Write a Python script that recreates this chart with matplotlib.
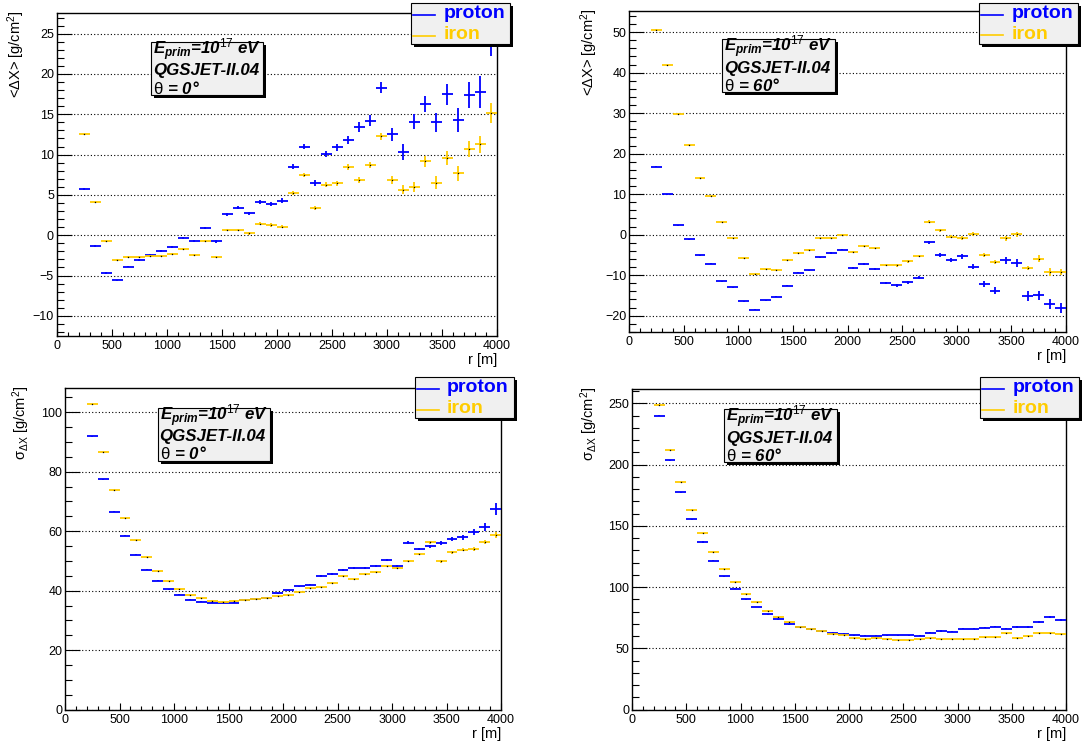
import matplotlib
matplotlib.use('Agg')
import matplotlib.pyplot as plt
from matplotlib.patches import Rectangle
from matplotlib.lines import Line2D
from matplotlib.ticker import MultipleLocator

plt.rcParams['font.family'] = ['Liberation Sans', 'DejaVu Sans']
plt.rcParams['mathtext.fontset'] = 'custom'
plt.rcParams['mathtext.rm'] = 'Liberation Sans'
plt.rcParams['mathtext.it'] = 'Liberation Sans:italic:bold'
plt.rcParams['mathtext.bf'] = 'Liberation Sans:bold'

# bin centres [m], bins are 100 m wide
r_bins = [250, 350, 450, 550, 650, 750, 850, 950, 1050, 1150,
          1250, 1350, 1450, 1550, 1650, 1750, 1850, 1950, 2050, 2150,
          2250, 2350, 2450, 2550, 2650, 2750, 2850, 2950, 3050, 3150,
          3250, 3350, 3450, 3550, 3650, 3750, 3850, 3950]
bin_half = 50

# <dX>, theta = 0
dx0_proton = [5.7, -1.37, -4.7, -5.6, -3.9, -3.06, -2.5, -2.0, -1.45, -0.37,
              -0.75, 0.87, -0.75, 2.6, 3.4, 2.7, 4.1, 3.9, 4.3, 8.5,
              11.0, 6.5, 10.1, 10.9, 11.8, 13.4, 14.2, 18.3, 12.5, 10.3,
              14.1, 16.3, 14.0, 17.5, 14.3, 17.4, 17.8, 25.0]
dx0_proton_err = [0.1, 0.1, 0.1, 0.1, 0.1, 0.1, 0.12, 0.12, 0.13, 0.14,
                  0.15, 0.16, 0.17, 0.18, 0.2, 0.2, 0.22, 0.24, 0.26, 0.3,
                  0.3, 0.35, 0.4, 0.45, 0.5, 0.6, 0.65, 0.7, 0.8, 1.0,
                  0.9, 1.0, 1.2, 1.3, 1.5, 1.6, 2.0, 2.8]
dx0_iron = [12.5, 4.1, -0.75, -3.06, -2.7, -2.7, -2.6, -2.6, -2.3, -1.66,
            -2.4, -0.7, -2.7, 0.66, 0.66, 0.25, 1.4, 1.28, 1.08, 5.2,
            7.5, 3.35, 6.25, 6.46, 8.45, 6.83, 8.74, 12.26, 6.83, 5.67,
            5.96, 9.15, 6.5, 9.6, 7.66, 10.64, 11.26, 15.15]
dx0_iron_err = [0.08, 0.08, 0.08, 0.08, 0.09, 0.1, 0.1, 0.1, 0.11, 0.12,
                0.13, 0.14, 0.15, 0.16, 0.17, 0.18, 0.19, 0.2, 0.22, 0.24,
                0.26, 0.28, 0.3, 0.32, 0.35, 0.38, 0.4, 0.45, 0.5, 0.55,
                0.6, 0.7, 0.8, 0.85, 0.9, 1.0, 1.1, 1.25]

# <dX>, theta = 60
dx60_proton = [16.8, 10.0, 2.3, -1.15, -5.1, -7.2, -11.5, -13.0, -16.4, -18.5,
               -16.2, -15.3, -12.6, -9.4, -8.8, -5.6, -4.5, -3.7, -8.2, -7.2,
               -8.5, -12.0, -12.5, -11.8, -10.6, -1.9, -5.0, -6.3, -5.3, -7.9,
               -12.1, -13.8, -6.3, -7.0, -15.1, -15.0, -17.2, -18.1]
dx60_proton_err = [0.08, 0.08, 0.08, 0.08, 0.09, 0.1, 0.1, 0.1, 0.11, 0.12,
                   0.13, 0.14, 0.15, 0.16, 0.17, 0.18, 0.2, 0.2, 0.22, 0.24,
                   0.26, 0.28, 0.3, 0.32, 0.35, 0.4, 0.45, 0.5, 0.6, 0.6,
                   0.7, 0.8, 0.9, 1.0, 1.2, 1.1, 1.2, 1.25]
dx60_iron = [50.6, 41.8, 29.9, 22.2, 14.1, 9.5, 3.1, -0.8, -5.8, -9.7,
             -8.5, -8.6, -6.3, -4.5, -3.7, -0.9, -0.7, -0.2, -4.2, -2.8,
             -3.4, -7.6, -7.6, -6.6, -5.3, 3.2, 1.07, -0.5, -0.8, 0.1,
             -4.9, -6.7, -0.9, 0.1, -8.2, -5.9, -9.3, -9.2]
dx60_iron_err = [0.06, 0.06, 0.06, 0.07, 0.07, 0.08, 0.08, 0.09, 0.1, 0.1,
                 0.11, 0.12, 0.13, 0.14, 0.15, 0.16, 0.17, 0.18, 0.19, 0.2,
                 0.22, 0.24, 0.26, 0.28, 0.3, 0.33, 0.36, 0.4, 0.42, 0.45,
                 0.5, 0.55, 0.6, 0.6, 0.5, 0.8, 1.0, 0.8]

# sigma_dX, theta = 0
sig0_proton = [91.9, 77.5, 66.5, 58.5, 52.1, 47.1, 43.3, 40.5, 38.6, 37.0,
               36.3, 35.9, 35.9, 35.9, 36.7, 37.1, 37.7, 39.1, 40.1, 41.4,
               42.0, 45.0, 45.6, 47.0, 47.5, 47.5, 48.2, 50.2, 48.2, 56.1,
               54.0, 54.9, 56.0, 57.4, 57.9, 59.8, 61.5, 67.4]
sig0_proton_err = [0.15, 0.15, 0.15, 0.15, 0.15, 0.15, 0.15, 0.15, 0.15, 0.15,
                   0.15, 0.15, 0.15, 0.15, 0.15, 0.15, 0.15, 0.15, 0.2, 0.2,
                   0.22, 0.25, 0.25, 0.28, 0.3, 0.32, 0.35, 0.4, 0.45, 0.5,
                   0.5, 0.6, 0.6, 0.7, 0.8, 1.0, 1.3, 1.9]
sig0_iron = [102.6, 86.6, 73.7, 64.4, 56.9, 51.2, 46.6, 43.1, 40.5, 38.7,
             37.5, 36.6, 36.3, 36.6, 36.7, 37.2, 37.5, 38.1, 38.7, 39.6,
             40.8, 41.1, 42.7, 45.0, 43.8, 45.6, 46.2, 48.3, 47.6, 50.1,
             52.3, 56.2, 49.9, 52.9, 53.8, 54.0, 56.4, 58.7]
sig0_iron_err = [0.12, 0.12, 0.12, 0.12, 0.12, 0.12, 0.12, 0.12, 0.12, 0.12,
                 0.12, 0.12, 0.12, 0.12, 0.12, 0.12, 0.12, 0.12, 0.15, 0.15,
                 0.17, 0.18, 0.2, 0.2, 0.22, 0.25, 0.28, 0.3, 0.32, 0.35,
                 0.4, 0.45, 0.45, 0.5, 0.55, 0.6, 0.7, 0.9]

# sigma_dX, theta = 60
sig60_proton = [239.9, 203.5, 177.4, 155.3, 136.8, 121.6, 108.8, 98.7, 90.3, 83.8,
                77.8, 74.0, 69.9, 67.5, 65.6, 64.2, 62.8, 62.0, 60.9, 60.4,
                60.4, 60.9, 60.7, 60.7, 60.4, 62.8, 64.2, 63.7, 66.1, 66.1,
                66.9, 67.7, 66.1, 67.5, 67.5, 71.8, 75.6, 73.4]
sig60_proton_err = [0.6, 0.6, 0.5, 0.5, 0.5, 0.4, 0.4, 0.4, 0.4, 0.4,
                    0.4, 0.4, 0.4, 0.4, 0.4, 0.4, 0.4, 0.4, 0.4, 0.4,
                    0.4, 0.4, 0.4, 0.5, 0.5, 0.5, 0.5, 0.5, 0.5, 0.6,
                    0.6, 0.6, 0.6, 0.7, 0.7, 0.8, 0.9, 1.0]
sig60_iron = [248.6, 211.6, 185.5, 163.2, 144.1, 128.4, 115.1, 103.9, 94.7, 87.6,
              80.8, 75.6, 71.5, 67.7, 65.8, 64.2, 61.8, 60.9, 58.8, 57.9,
              58.8, 57.4, 56.9, 56.9, 57.7, 58.2, 57.4, 57.9, 57.4, 57.9,
              59.3, 59.3, 62.3, 58.8, 60.4, 62.8, 62.8, 62.0]
sig60_iron_err = [0.5, 0.5, 0.4, 0.4, 0.4, 0.4, 0.3, 0.3, 0.3, 0.3,
                  0.3, 0.3, 0.3, 0.3, 0.3, 0.3, 0.3, 0.3, 0.3, 0.3,
                  0.3, 0.3, 0.3, 0.4, 0.4, 0.4, 0.4, 0.4, 0.4, 0.5,
                  0.5, 0.5, 0.5, 0.6, 0.6, 0.6, 0.7, 0.8]

labels = ['proton', 'iron']
dx_label = '<ΔX> [g/cm$^{2}$]'
sig_label = r'$\mathrm{\sigma_{\Delta X}}$ [g/cm$^{2}$]'

PROTON = '#0000ff'
IRON = '#ffcc00'

W, H = 1092, 744
fig = plt.figure(figsize=(W / 100, H / 100), dpi=100)


def fx(px):
    return px / W


def fy(py):
    return 1 - py / H


def box_with_shadow(left, top, w, h):
    shadow = Rectangle((fx(left + 3), fy(top + h + 3)), w / W, h / H,
                       transform=fig.transFigure, facecolor='black',
                       edgecolor='none', zorder=5)
    frame = Rectangle((fx(left), fy(top + h)), w / W, h / H,
                      transform=fig.transFigure, facecolor='#f0f0f0',
                      edgecolor='black', lw=0.8, zorder=6)
    fig.add_artist(shadow)
    fig.add_artist(frame)


def panel(rect, ylim, major, minor, p_val, p_err, fe_val, fe_err,
          ylabel, theta, stats_xy, legend_xy, ylabel_x):
    left, top, right, bottom = rect
    ax = fig.add_axes([fx(left), fy(bottom), (right - left) / W, (bottom - top) / H])
    ax.yaxis.grid(True, linestyle=(0, (1, 2)), color='black', lw=0.8)
    ax.set_axisbelow(True)

    ax.errorbar(r_bins, p_val, xerr=bin_half, yerr=p_err, fmt='none',
                ecolor=PROTON, elinewidth=1.3, capsize=0, zorder=3)
    ax.errorbar(r_bins, fe_val, xerr=bin_half, yerr=fe_err, fmt='none',
                ecolor=IRON, elinewidth=1.3, capsize=0, zorder=4)
    ax.plot(r_bins, fe_val, ls='none', marker='s', ms=0.9, mew=0,
            mfc='black', zorder=4.5)

    ax.set_xlim(0, 4000)
    ax.set_ylim(*ylim)
    ax.xaxis.set_major_locator(MultipleLocator(500))
    ax.xaxis.set_minor_locator(MultipleLocator(100))
    ax.yaxis.set_major_locator(MultipleLocator(major))
    ax.yaxis.set_minor_locator(MultipleLocator(minor))
    ax.tick_params(axis='y', which='major', direction='in', length=10.8,
                   width=0.8, labelsize=9, pad=2)
    ax.tick_params(axis='y', which='minor', direction='in', length=5.2, width=0.8)
    ax.tick_params(axis='x', which='major', direction='in', length=5,
                   width=0.8, labelsize=9, pad=3)
    ax.tick_params(axis='x', which='minor', direction='in', length=3, width=0.8)
    for s in ax.spines.values():
        s.set_linewidth(1.0)

    # axis titles, ROOT style
    fig.text(fx(right), fy(bottom + 24), 'r [m]', ha='right', va='center',
             fontsize=10.5)
    fig.text(fx(ylabel_x), fy(top - 2), ylabel, rotation=90, ha='center',
             va='top', fontsize=10.5)

    # info box
    sx, sy = stats_xy
    box_with_shadow(sx, sy, 112.6, 53.3)
    info = [r'$E_{prim}$=10$^{\mathit{17}}$ eV', 'QGSJET-II.04',
            r'$\mathrm{\theta}$ = ' + theta]
    for txt, dy in zip(info, [12.8, 33.6, 51.8]):
        fig.text(fx(sx + 2), fy(sy + dy), txt, ha='left', va='baseline',
                 fontsize=12.2, fontweight='bold', fontstyle='italic', zorder=7)

    # legend
    lx, ly = legend_xy
    box_with_shadow(lx, ly, 99, 41.6)
    for name, col, dy in zip(labels, [PROTON, IRON], [0, 20.5]):
        fig.add_artist(Line2D([fx(lx + 2.3), fx(lx + 24)], [fy(ly + 12.3 + dy)] * 2,
                              transform=fig.transFigure, color=col, lw=1.2, zorder=7))
        fig.text(fx(lx + 32.3), fy(ly + 15.8 + dy), name, ha='left', va='baseline',
                 fontsize=14, fontweight='bold', color=col, zorder=7)
    return ax


panel((56.7, 12.7, 497, 336), (-12.5, 27.6), 5, 1,
      dx0_proton, dx0_proton_err, dx0_iron, dx0_iron_err,
      dx_label, '0°', (150.7, 41.7), (411, 2.7), 16)
panel((629, 10.7, 1066, 332.3), (-24.1, 55.3), 10, 2,
      dx60_proton, dx60_proton_err, dx60_iron, dx60_iron_err,
      dx_label, '60°', (722, 39), (979, 2.5), 589.7)
panel((65, 388, 501, 709.7), (0, 108.1), 20, 5,
      sig0_proton, sig0_proton_err, sig0_iron, sig0_iron_err,
      sig_label, '0°', (157.5, 407.5), (414.5, 376.7), 21)
panel((632, 389, 1066, 709.7), (0, 261.7), 50, 10,
      sig60_proton, sig60_proton_err, sig60_iron, sig60_iron_err,
      sig_label, '60°', (724, 409), (980, 376.7), 588.7)

fig.savefig('out.png', dpi=100)
